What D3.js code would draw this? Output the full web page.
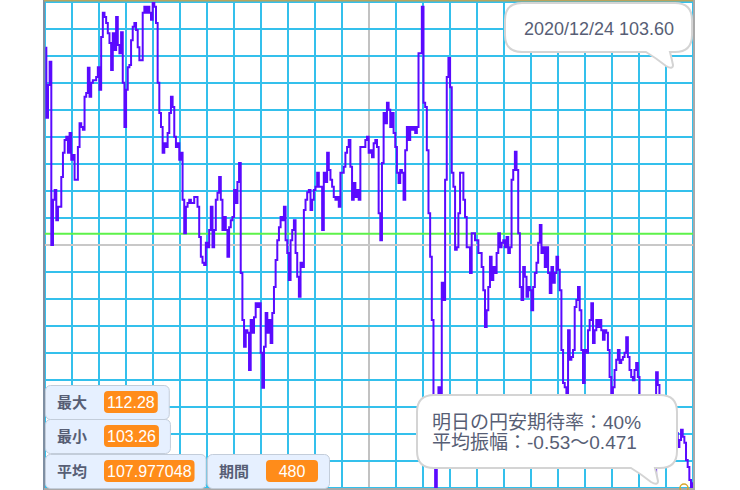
<!doctype html>
<html lang="ja">
  <head>
    <meta charset="UTF-8"/>
    <title>USD/JPY</title>
    <script src="https://cdn.jsdelivr.net/npm/d3@7"></script>
    <style>
      body { margin: 0; background: #fff; }
      svg { display: block; font-family: "Liberation Sans", Arial, "Noto Sans CJK JP", sans-serif; }
    </style>
  </head>
  <body>
    <div id="stage"></div>
    <script>
      // daily rate (oldest -> newest)
      const rates = [
        111.43, 110.13, 110.74, 111.17, 107.77, 108.61, 108.79, 108.23, 108.48, 108.48,
        109.03, 109.48, 109.72, 109.78, 109.48, 109.85, 109.35, 109.44, 108.98, 108.98,
        109.59, 110.03, 109.96, 109.91, 110.52, 110.59, 111.06, 110.52, 110.78, 110.83,
        110.83, 110.89, 111.07, 110.65, 111.63, 112.08, 112.00, 111.89, 111.70, 111.52,
        111.02, 111.70, 111.39, 112.00, 111.48, 111.33, 111.72, 110.78, 109.96, 110.65,
        111.07, 111.11, 111.57, 111.82, 111.89, 111.76, 111.44, 111.20, 111.20, 112.08,
        112.19, 112.08, 112.19, 112.08, 111.95, 112.28, 112.19, 111.89, 110.78, 110.22,
        109.96, 109.48, 109.66, 109.59, 109.85, 110.22, 110.52, 110.33, 109.78, 109.59,
        109.66, 109.35, 109.48, 108.61, 107.99, 108.48, 108.55, 108.61, 108.55, 108.55,
        108.66, 108.66, 108.48, 107.92, 107.55, 107.44, 107.40, 107.81, 107.73,
        108.05, 108.48, 107.73, 108.05, 108.61, 108.74, 109.03, 108.61, 108.05, 108.29,
        108.05, 107.55, 108.10, 108.23, 108.29, 108.79, 108.55, 108.94, 109.29, 107.25,
        106.38, 105.88, 106.19, 106.14, 105.45, 106.38, 106.14, 106.43, 106.69, 106.62,
        106.69, 105.77, 105.12, 105.88, 106.51, 106.14, 106.38, 105.95, 106.51, 106.99,
        107.49, 107.86, 108.10, 108.29, 108.23, 108.48, 107.86, 107.62, 107.12, 107.86,
        108.05, 108.23, 107.62, 107.18, 106.81, 107.44, 107.36, 108.42, 108.61, 108.75,
        108.79, 108.42, 108.61, 108.79, 108.85, 109.11, 108.85, 108.85, 108.05, 109.11,
        108.94, 109.48, 109.16, 108.98, 108.85, 108.66, 108.61, 108.66, 108.48, 109.11,
        109.11, 109.22, 109.48, 109.59, 109.72, 109.22, 108.61, 108.92, 108.66, 108.79,
        108.61, 109.59, 109.59, 109.59, 109.72, 109.78, 109.48,
        109.53, 109.40, 109.66, 109.72, 109.59, 108.36, 107.86, 109.29, 110.22, 110.03,
        110.41, 110.28, 109.96, 110.22, 109.85, 109.59, 109.11, 108.92, 109.16, 109.11,
        108.61, 109.53, 109.96, 109.72, 109.96, 109.91, 109.96, 109.85, 109.96, 111.33,
        111.33, 112.19, 110.41, 110.33, 109.53, 108.36, 107.55, 106.38, 104.89, 103.26,
        104.28, 105.13, 104.89, 107.07, 106.75, 108.98, 110.89, 111.24, 110.70, 109.11,
        108.85, 107.68, 107.73, 108.36, 109.11, 109.11, 108.61, 108.29, 107.73, 107.73,
        107.25, 107.99, 107.99, 107.86, 107.86, 107.62, 107.62, 107.36, 106.93, 106.25,
        106.56, 106.99, 107.55, 107.12, 107.36, 107.25, 107.62, 107.99, 107.73, 107.81,
        107.86, 107.73, 107.92, 107.62, 107.73, 108.98, 109.16, 109.50, 109.16, 107.99,
        106.99, 106.75, 107.36, 107.18, 106.81, 106.99, 106.93,
        106.56, 106.99, 107.25, 107.44, 107.81, 108.14, 107.62, 107.73, 107.36, 107.73,
        107.25, 106.88, 107.36, 107.07, 107.25, 107.55, 107.31, 106.93, 105.82, 105.21,
        105.13, 104.89, 106.19, 105.64, 105.69, 105.82, 106.62, 106.75, 106.99, 106.56,
        105.82, 105.21, 105.82, 105.77, 106.19, 106.38, 106.69, 105.95, 106.19, 106.38,
        106.25, 106.38, 106.19, 106.01, 106.19, 106.14, 105.82, 105.32, 105.02, 105.13,
        105.45, 105.64, 105.82, 105.58, 105.64, 105.69, 105.77, 106.06, 105.69, 105.45,
        105.32, 105.26, 105.45, 105.58, 105.32, 104.89, 104.71, 104.52, 104.34, 104.15,
        104.06, 104.34, 104.52, 104.89, 103.50, 105.41, 105.17, 104.52, 104.15, 103.97,
        103.87, 103.97, 104.15, 104.34, 104.43, 104.52, 104.52, 104.28, 104.02, 104.15,
        104.34, 104.21, 104.10, 103.78, 103.65, 103.41, 103.28, 103.35
      ];

      const maxRate = 112.28, minRate = 103.26, avgRate = 107.977048;
      const monitorNames = ["最大", "最小", "平均", "期間"];
      const monitorValues = ["112.28", "103.26", "107.977048", "480"];
      const lastDate = "2020/12/24", lastRate = "103.60";
      const forecastLines = ["明日の円安期待率：40%", "平均振幅：-0.53〜0.471"];

      const W = 740, H = 490;
      const pL = 45, pR = 693, pT = 2, pB = 488;
      const cols = 24, rows = 18;

      const svg = d3.select("#stage").append("svg")
          .attr("width", W).attr("height", H);

      const gx = d3.scaleLinear().domain([0, cols]).range([pL, pR]);
      const gy = d3.scaleLinear().domain([0, rows]).range([pT, pB]);
      const x = d3.scaleLinear().domain([0, rates.length - 1]).range([pL + 0.5, pR + 0.5]);
      const y = d3.scaleLinear().domain([minRate, maxRate]).range([pB, pT]);

      svg.append("defs").append("clipPath").attr("id", "plot")
        .append("rect").attr("x", pL).attr("y", pT)
        .attr("width", pR - pL).attr("height", pB - pT);

      const grid = svg.append("g").attr("stroke-width", 2);
      grid.selectAll(".v").data(d3.range(cols + 1))
        .enter().append("line").attr("class", "v")
        .attr("x1", d => gx(d)).attr("x2", d => gx(d))
        .attr("y1", pT).attr("y2", pB)
        .attr("stroke", d => d == cols / 2 ? "#c2c2c2" : "#34c0ec");
      grid.selectAll(".h").data(d3.range(rows + 1))
        .enter().append("line").attr("class", "h")
        .attr("y1", d => gy(d)).attr("y2", d => gy(d))
        .attr("x1", pL).attr("x2", pR)
        .attr("stroke", d => d == rows / 2 ? "#c8c8c8" : "#34c0ec");

      // average line
      svg.append("line")
        .attr("x1", pL).attr("x2", pR)
        .attr("y1", y(avgRate)).attr("y2", y(avgRate))
        .attr("stroke", "#5df24a").attr("stroke-width", 2);

      const line = d3.line()
        .x((d, i) => x(i))
        .y(d => y(d))
        .curve(d3.curveStep);

      svg.append("path")
        .datum(rates)
        .attr("clip-path", "url(#plot)")
        .attr("fill", "none")
        .attr("stroke", "#5a0aff")
        .attr("stroke-width", 2)
        .attr("d", line);

      // stage frame
      svg.append("line").attr("x1", 44).attr("x2", 44).attr("y1", 0).attr("y2", 490)
        .attr("stroke", "#7f8fa3").attr("stroke-width", 2);
      svg.append("line").attr("x1", 44).attr("x2", 695).attr("y1", 0.5).attr("y2", 0.5)
        .attr("stroke", "#b9a45c").attr("stroke-width", 2);
      svg.append("line").attr("x1", 694).attr("x2", 694).attr("y1", 0).attr("y2", 490)
        .attr("stroke", "#a9a9a9").attr("stroke-width", 2);
      svg.append("line").attr("x1", 44).attr("x2", 695).attr("y1", 489).attr("y2", 489)
        .attr("stroke", "#a9a9a9").attr("stroke-width", 2);

      svg.append("circle").attr("cx", 684).attr("cy", 488).attr("r", 4)
        .attr("fill", "none").attr("stroke", "#d6a72c").attr("stroke-width", 1.5);

      // speech bubble with a tail at the lower right
      function bubble(x0, y0, x1, y1, r) {
        const p = d3.path();
        p.moveTo(x0 + r, y0);
        p.lineTo(x1 - r, y0);
        p.quadraticCurveTo(x1, y0, x1, y0 + r);
        p.lineTo(x1, y1 - r);
        p.quadraticCurveTo(x1, y1, x1 - r, y1);
        p.lineTo(x1 - 22, y1);
        p.quadraticCurveTo(x1 - 20, y1 + 8, x1 - 19, y1 + 13);
        p.quadraticCurveTo(x1 - 19, y1 + 18, x1 - 26, y1 + 14);
        p.quadraticCurveTo(x1 - 36, y1 + 6, x1 - 46, y1);
        p.lineTo(x0 + r, y1);
        p.quadraticCurveTo(x0, y1, x0, y1 - r);
        p.lineTo(x0, y0 + r);
        p.quadraticCurveTo(x0, y0, x0 + r, y0);
        p.closePath();
        return p.toString();
      }

      svg.append("path").attr("d", bubble(505, 3, 692, 52, 17))
        .attr("fill", "#fff").attr("stroke", "#d4d4d4").attr("stroke-width", 2);
      svg.append("text").attr("x", 599).attr("y", 35)
        .attr("text-anchor", "middle").attr("font-size", 18).attr("fill", "#575e75")
        .text(lastDate + " " + lastRate);

      svg.append("path").attr("d", bubble(417, 395, 677, 468, 17))
        .attr("fill", "#fff").attr("stroke", "#d4d4d4").attr("stroke-width", 2);
      svg.append("g").selectAll("text").data(forecastLines)
        .enter().append("text")
        .attr("x", 432).attr("y", (d, i) => 429 + i * 20)
        .attr("font-size", 19).attr("fill", "#575e75")
        .attr("font-family", "'Liberation Sans', 'Noto Sans CJK JP', sans-serif")
        .text(d => d);

      // variable monitors
      const monitorPos = [[45, 385], [45, 419], [45, 454], [207, 454]];
      monitorNames.forEach((name, i) => {
        const [mx, my] = monitorPos[i];
        const g = svg.append("g").attr("transform", `translate(${mx},${my})`);
        const box = g.append("rect").attr("x", 0.5).attr("y", 0.5).attr("rx", 5)
          .attr("height", 34).attr("fill", "#e6f0ff").attr("stroke", "#c3cdda");
        g.append("text").attr("x", 12).attr("y", 23)
          .attr("font-size", 15).attr("font-weight", "bold").attr("fill", "#575e75")
          .attr("font-family", "'Noto Sans CJK JP', sans-serif")
          .text(name);
        const pill = g.append("rect").attr("x", 59).attr("y", 6)
          .attr("height", 22).attr("rx", 4).attr("fill", "#ff8c1a");
        const val = g.append("text").attr("y", 23).attr("font-size", 16)
          .attr("fill", "#fff").attr("text-anchor", "middle")
          .text(monitorValues[i]);
        const vw = Math.max(52, val.node().getComputedTextLength() + 6);
        pill.attr("width", vw);
        val.attr("x", 59 + vw / 2);
        box.attr("width", 59 + vw + 11);
      });
    </script>
  </body>
</html>
